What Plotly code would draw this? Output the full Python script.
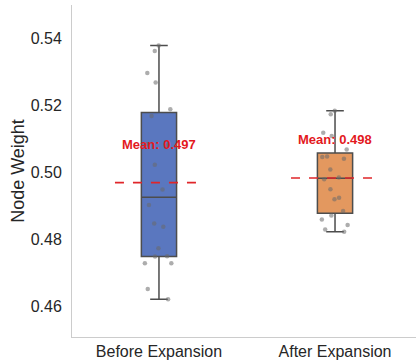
import numpy as np
import plotly.graph_objects as go

categories = ["Before Expansion", "After Expansion"]
before_values = [0.5380, 0.5364, 0.5298, 0.5270, 0.5190, 0.5170, 0.5086, 0.5082,
                 0.5024, 0.4950, 0.4904, 0.4849, 0.4839, 0.4775, 0.4751, 0.4750,
                 0.4730, 0.4730, 0.4653, 0.4623]
after_values = [0.5185, 0.5175, 0.5120, 0.5110, 0.5070, 0.5042, 0.5049, 0.5047,
                0.5010, 0.4981, 0.4986, 0.4951, 0.4926, 0.4921, 0.4886, 0.4873,
                0.4861, 0.4844, 0.4831, 0.4824]
series = [before_values, after_values]
box_colors = ["#5a77bf", "#e3985f"]
y_ticks = [0.46, 0.48, 0.50, 0.52, 0.54]

FONT = "Liberation Sans, Arial, sans-serif"

fig = go.Figure()
for i, (cat, vals) in enumerate(zip(categories, series)):
    fig.add_trace(go.Box(
        x=[cat] * len(vals), y=vals, name=cat,
        boxpoints="all", jitter=1.0, pointpos=0,
        width=0.2, whiskerwidth=0.5,
        fillcolor=box_colors[i],
        line=dict(color="#4d4d4d", width=1.5),
        marker=dict(color="rgba(105,105,105,0.55)", size=4.5),
        quartilemethod="linear",
        showlegend=False, hoverinfo="y",
    ))
    m = float(np.mean(vals))
    fig.add_shape(type="line", xref="x", yref="y",
                  x0=i - 0.25, x1=i + 0.25, y0=m, y1=m,
                  line=dict(color="#e0262a", width=1.6, dash="dash"))
    fig.add_annotation(x=i, y=m + 0.0115, xref="x", yref="y",
                       text=f"<b>Mean: {m:.3f}</b>", showarrow=False,
                       font=dict(family=FONT, size=13, color="#e3191e"),
                       yanchor="middle", xanchor="center")

fig.update_layout(
    width=416, height=360,
    margin=dict(l=72, r=0, t=5, b=23, autoexpand=False),
    paper_bgcolor="white", plot_bgcolor="white",
    font=dict(family=FONT, color="#262626"),
    boxmode="overlay",
)
fig.update_xaxes(
    type="category", categoryorder="array", categoryarray=categories,
    range=[-0.494, 1.46], automargin=False,
    showline=True, linecolor="#cccccc", linewidth=1,
    showgrid=False, zeroline=False,
    ticks="", ticklen=0,
    tickfont=dict(family=FONT, size=16, color="#262626"),
)
fig.update_yaxes(
    range=[0.451, 0.5501], automargin=True,
    tickvals=y_ticks, tickformat=".2f",
    showline=True, linecolor="#cccccc", linewidth=1,
    showgrid=False, zeroline=False,
    ticks="outside", ticklen=6, tickcolor="rgba(0,0,0,0)",
    tickfont=dict(family=FONT, size=16, color="#262626"),
    title=dict(text="Node Weight", standoff=1,
               font=dict(family=FONT, size=18, color="#262626")),
)

fig.write_html("out.html", config={"displayModeBar": False},
               post_script="document.body.style.margin='0px';")
